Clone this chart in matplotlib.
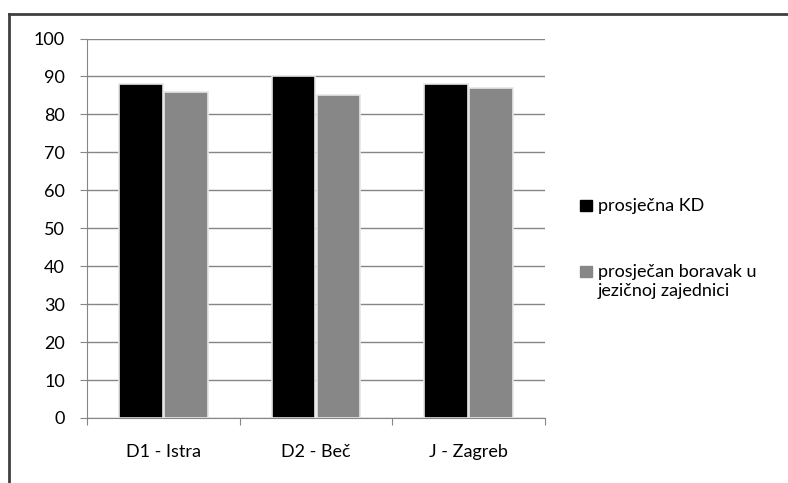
import matplotlib.pyplot as plt
import numpy as np
from matplotlib.lines import Line2D
from matplotlib.patches import Rectangle

categories = ['D1 - Istra', 'D2 - Beč', 'J - Zagreb']
kd = [88, 90, 88]
boravak = [86, 85, 87]
series_names = ['prosječna KD', 'prosječan boravak u\njezičnoj zajednici']
series_colors = ['black', '#878787']

plt.rcParams['font.family'] = ['Lato', 'DejaVu Sans']

fig = plt.figure(figsize=(7.88, 4.83), dpi=100)
W, H = 788, 483
ax = fig.add_axes([87 / W, 1 - 418 / H, (545 - 87) / W, (418 - 38.5) / H])

x = np.arange(len(categories))
w = 0.285
ax.bar(x - w / 2 - 0.005, kd, w, color=series_colors[0], edgecolor='#e6e6e6', linewidth=1.2, zorder=3)
ax.bar(x + w / 2 + 0.005, boravak, w, color=series_colors[1], edgecolor='#e6e6e6', linewidth=1.2, zorder=3)

ax.set_xlim(-0.5, 2.5)
ax.set_ylim(0, 100)
ax.set_yticks(range(0, 101, 10))
ax.yaxis.grid(True, color='#868686', linewidth=1, zorder=0)
ax.set_axisbelow(True)

ax.set_xticks([-0.5, 0.5, 1.5, 2.5])
ax.set_xticklabels([])
ax.set_xticks(x, minor=True)
ax.set_xticklabels(categories, minor=True, fontsize=13)
ax.tick_params(axis='x', which='minor', length=0, pad=19)
ax.tick_params(axis='x', which='major', length=5, direction='out', color='#868686')
ax.tick_params(axis='y', length=5, direction='out', color='#868686', labelsize=13, pad=11)

for s in ['top', 'right']:
    ax.spines[s].set_visible(False)
ax.spines['left'].set_color('#868686')
ax.spines['bottom'].set_color('#868686')

# legend: square aligned with the first line of each entry
for name, col, yc in zip(series_names, series_colors, [205, 271]):
    fig.add_artist(Rectangle((580 / W, 1 - (yc + 5.5) / H), 12 / W, 11 / H,
                             transform=fig.transFigure, color=col))
    fig.text(598 / W, 1 - (yc - 7) / H, name, fontsize=13, va='top', ha='left',
             linespacing=1.25)

# outer border (left and top)
fig.add_artist(Line2D([9 / W, 9 / W], [0, 1 - 14 / H], color='#404040', linewidth=2))
fig.add_artist(Line2D([9 / W, 1], [1 - 14 / H, 1 - 14 / H], color='#404040', linewidth=2))

fig.savefig('out.png', dpi=100)
